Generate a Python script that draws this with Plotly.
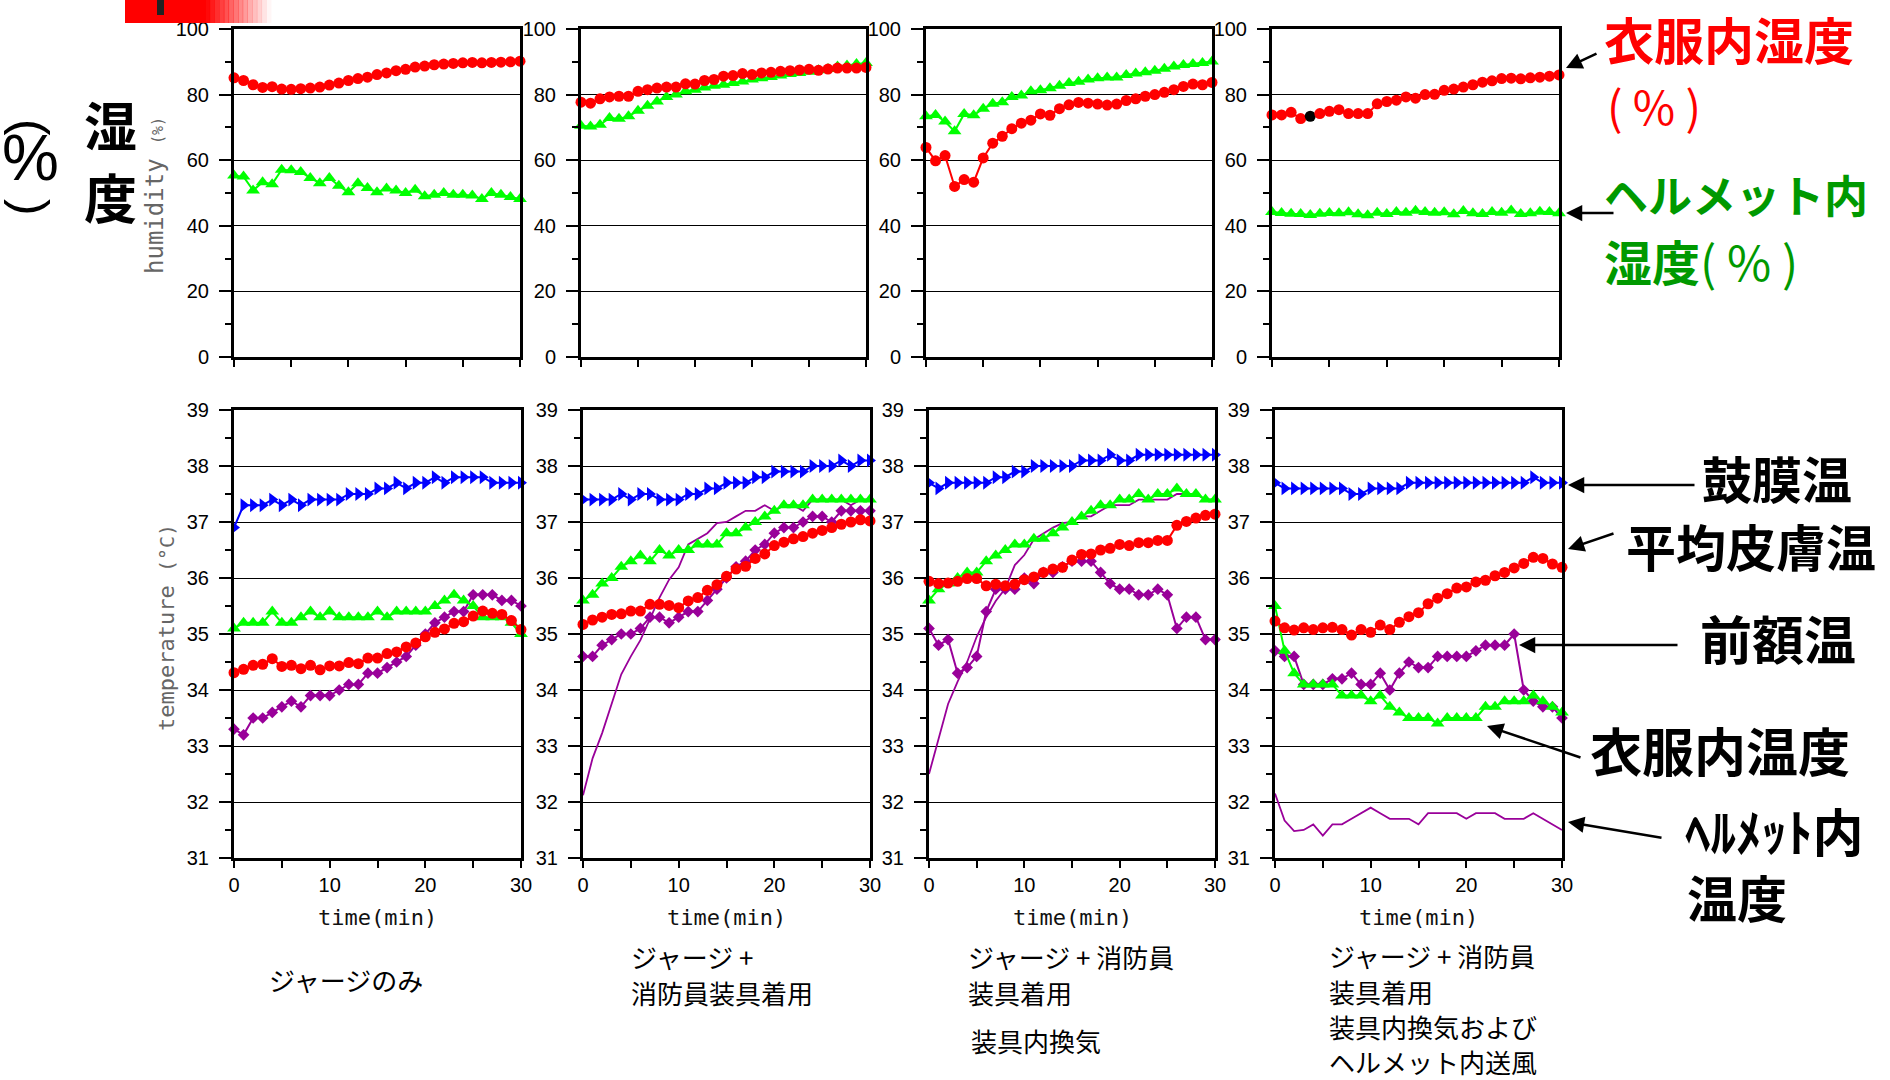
import plotly.graph_objects as go

W, H = 1890, 1080
t = list(range(31))

# ---------------- humidity (%) ----------------
hum_cloth_1 = [85.1,84.3,83.0,82.2,82.4,81.7,81.6,81.8,82.0,82.3,82.9,83.5,84.3,84.9,85.3,86.1,86.6,87.3,87.7,88.4,88.7,89.1,89.3,89.5,89.7,89.8,89.7,89.8,89.9,90.0,90.2]
hum_cloth_2 = [77.7,77.4,78.7,79.3,79.5,79.5,81.0,81.5,82.0,82.3,82.3,83.3,83.2,84.3,84.6,85.6,85.8,86.4,86.1,86.6,86.8,87.1,87.3,87.5,87.7,87.4,87.8,88.1,88.1,88.1,88.3]
hum_cloth_3 = [63.9,59.8,61.4,52.0,54.1,53.3,60.7,65.2,67.3,69.6,71.3,72.2,74.1,73.7,75.7,76.9,77.6,77.4,77.1,76.8,77.1,78.2,78.7,79.5,80.0,80.7,81.5,82.5,83.2,83.0,83.7]
hum_cloth_4 = [73.8,73.8,74.6,72.7,73.4,74.2,74.9,75.4,74.2,74.2,74.2,77.2,77.9,78.3,79.3,78.9,80.0,80.1,81.3,81.7,82.3,83.0,83.8,84.2,84.9,85.0,84.8,85.1,85.3,85.6,86.0]

hum_helmet_1 = [55.3,55.0,50.8,53.3,52.7,57.1,56.9,56.4,54.6,53.0,54.6,52.2,50.2,53.0,51.5,50.2,51.4,50.8,50.0,51.0,49.0,49.5,50.0,49.5,49.5,49.2,48.2,50.0,49.5,48.8,48.2]
hum_helmet_2 = [70.5,70.3,70.8,72.9,72.6,73.4,75.1,76.6,77.9,79.3,80.0,81.0,81.5,82.2,82.7,83.0,83.5,84.0,84.6,85.0,85.4,85.8,86.3,86.6,87.0,87.4,87.8,88.6,88.9,89.3,89.6]
hum_helmet_3 = [73.4,73.8,71.8,68.8,74.1,73.7,75.7,77.2,77.7,79.3,79.7,81.0,81.3,81.9,82.7,83.5,83.9,84.6,85.0,85.2,85.2,86.0,86.4,86.8,87.3,87.9,88.6,89.0,89.3,89.6,90.1]
hum_helmet_4 = [44.2,43.9,43.7,43.6,43.3,43.7,43.9,43.8,44.1,43.5,43.2,44.0,43.6,44.2,44.0,44.6,44.2,44.0,44.1,43.5,44.5,43.8,43.6,44.2,44.0,44.7,43.6,43.8,44.3,44.2,43.8]

# ---------------- temperature (°C) ----------------
tymp_1 = [36.9,37.3,37.3,37.3,37.4,37.3,37.4,37.3,37.4,37.4,37.4,37.4,37.5,37.5,37.5,37.6,37.6,37.7,37.6,37.7,37.7,37.8,37.7,37.8,37.8,37.8,37.8,37.7,37.7,37.7,37.7]
tymp_2 = [37.4,37.4,37.4,37.4,37.5,37.4,37.5,37.5,37.4,37.4,37.4,37.5,37.5,37.6,37.6,37.7,37.7,37.7,37.8,37.8,37.9,37.9,37.9,37.9,38.0,38.0,38.0,38.1,38.0,38.1,38.1]
tymp_3 = [37.7,37.6,37.7,37.7,37.7,37.7,37.7,37.8,37.8,37.9,37.9,38.0,38.0,38.0,38.0,38.0,38.1,38.1,38.1,38.2,38.1,38.1,38.2,38.2,38.2,38.2,38.2,38.2,38.2,38.2,38.2]
tymp_4 = [37.7,37.6,37.6,37.6,37.6,37.6,37.6,37.6,37.5,37.5,37.6,37.6,37.6,37.6,37.7,37.7,37.7,37.7,37.7,37.7,37.7,37.7,37.7,37.7,37.7,37.7,37.7,37.8,37.7,37.7,37.7]

skin_1 = [34.31,34.37,34.44,34.46,34.56,34.42,34.44,34.38,34.44,34.36,34.43,34.43,34.49,34.47,34.57,34.57,34.65,34.68,34.77,34.84,34.95,35.03,35.09,35.19,35.22,35.32,35.41,35.37,35.35,35.24,35.08]
skin_2 = [35.17,35.25,35.30,35.35,35.36,35.41,35.41,35.53,35.53,35.51,35.47,35.59,35.65,35.78,35.88,36.03,36.16,36.21,36.35,36.43,36.58,36.64,36.70,36.74,36.80,36.85,36.90,36.96,37.00,37.04,37.02]
skin_3 = [35.94,35.90,35.91,35.94,35.99,35.99,35.86,35.89,35.86,35.89,35.97,36.02,36.10,36.16,36.19,36.32,36.42,36.43,36.50,36.53,36.60,36.58,36.63,36.63,36.67,36.67,36.94,37.01,37.07,37.12,37.14]
skin_4 = [35.23,35.11,35.07,35.11,35.08,35.11,35.12,35.08,34.98,35.08,35.03,35.16,35.08,35.21,35.31,35.38,35.54,35.64,35.72,35.82,35.84,35.93,35.96,36.04,36.10,36.18,36.26,36.37,36.35,36.25,36.19]

cloth_1 = [35.1,35.2,35.2,35.2,35.4,35.2,35.2,35.3,35.4,35.3,35.4,35.3,35.3,35.3,35.3,35.4,35.3,35.4,35.4,35.4,35.4,35.5,35.6,35.7,35.6,35.5,35.3,35.3,35.3,35.2,35.0]
cloth_2 = [35.6,35.7,35.9,36.0,36.2,36.3,36.4,36.3,36.5,36.4,36.5,36.5,36.6,36.6,36.6,36.8,36.8,36.9,37.0,37.1,37.2,37.3,37.3,37.3,37.4,37.4,37.4,37.4,37.4,37.4,37.4]
cloth_3 = [35.6,35.8,35.9,36.0,36.1,36.1,36.3,36.4,36.5,36.6,36.6,36.7,36.7,36.8,36.9,37.0,37.1,37.2,37.3,37.3,37.4,37.4,37.5,37.4,37.5,37.5,37.6,37.5,37.5,37.4,37.4]
cloth_4 = [35.5,34.7,34.3,34.1,34.1,34.1,34.1,33.9,33.9,33.9,33.8,33.9,33.7,33.6,33.5,33.5,33.5,33.4,33.5,33.5,33.5,33.5,33.7,33.7,33.8,33.8,33.8,33.9,33.8,33.7,33.6]

forehead_1 = [33.3,33.2,33.5,33.5,33.6,33.7,33.8,33.7,33.9,33.9,33.9,34.0,34.1,34.1,34.3,34.3,34.4,34.5,34.6,34.8,35.0,35.2,35.3,35.4,35.4,35.7,35.7,35.7,35.6,35.6,35.5]
forehead_2 = [34.6,34.6,34.8,34.9,35.0,35.0,35.1,35.3,35.3,35.2,35.3,35.4,35.4,35.6,35.8,36.0,36.2,36.3,36.5,36.6,36.8,36.9,36.9,37.0,37.1,37.1,37.0,37.2,37.2,37.2,37.2]
forehead_3 = [35.1,34.8,34.9,34.3,34.4,34.6,35.4,35.8,35.8,35.8,36.0,35.9,36.1,36.1,36.2,36.3,36.3,36.3,36.1,35.9,35.8,35.8,35.7,35.7,35.8,35.7,35.1,35.3,35.3,34.9,34.9]
forehead_4 = [34.7,34.6,34.6,34.1,34.1,34.1,34.2,34.2,34.3,34.1,34.1,34.3,34.0,34.3,34.5,34.4,34.4,34.6,34.6,34.6,34.6,34.7,34.8,34.8,34.8,35.0,34.0,33.8,33.7,33.7,33.5]

helmet_2 = [32.12,32.78,33.23,33.74,34.28,34.6,34.89,35.27,35.65,35.97,36.19,36.6,36.7,36.8,36.98,37.0,37.1,37.2,37.2,37.3,37.2,37.3,37.3,37.2,37.4,37.4,37.4,37.4,37.3,37.4,37.4]
helmet_3 = [32.5,33.13,33.75,34.15,34.5,34.95,35.3,35.59,35.81,36.23,36.41,36.69,36.8,36.9,36.98,37.0,37.1,37.1,37.2,37.3,37.3,37.3,37.4,37.4,37.4,37.4,37.5,37.5,37.5,37.4,37.4]
helmet_4 = [32.15,31.67,31.48,31.5,31.6,31.4,31.6,31.6,31.7,31.8,31.9,31.8,31.7,31.7,31.7,31.6,31.8,31.8,31.8,31.8,31.7,31.8,31.8,31.8,31.7,31.7,31.7,31.8,31.7,31.6,31.5]

hum_yticks = [0, 20, 40, 60, 80, 100]
temp_yticks = [31, 32, 33, 34, 35, 36, 37, 38, 39]
top_xticks = [0, 6, 12, 18, 24, 30]
bot_xticks = [0, 10, 20, 30]

RED, GREEN, BLUE, PURPLE = "#ff0000", "#00ff00", "#0000ff", "#990099"
DKGREEN = "#009900"

fig = go.Figure()

def px(x):
    return x / W

def py(y):
    return 1 - y / H

top_cols = [(234, 520), (581, 866), (926, 1212), (1272, 1559)]
bot_cols = [(234, 521), (583, 870), (929, 1215), (1275, 1562)]
TOP_Y = (29, 357)
BOT_Y = (410, 858)

num_font = dict(family="Liberation Sans, Arial", size=20, color="black")

def add_series(idx, y, color, symbol, size, width=2, show_markers=True, mcolors=None):
    mode = "lines+markers" if show_markers else "lines"
    fig.add_trace(go.Scatter(
        x=t, y=y, mode=mode, xaxis=f"x{idx}", yaxis=f"y{idx}",
        line=dict(color=color, width=width),
        marker=dict(symbol=symbol, size=size, color=mcolors if mcolors else color, line=dict(width=0)),
        cliponaxis=False, showlegend=False, hoverinfo="skip"))

hum_cloth = [hum_cloth_1, hum_cloth_2, hum_cloth_3, hum_cloth_4]
hum_helmet = [hum_helmet_1, hum_helmet_2, hum_helmet_3, hum_helmet_4]
tymp = [tymp_1, tymp_2, tymp_3, tymp_4]
skin = [skin_1, skin_2, skin_3, skin_4]
cloth = [cloth_1, cloth_2, cloth_3, cloth_4]
forehead = [forehead_1, forehead_2, forehead_3, forehead_4]
helmet = [None, helmet_2, helmet_3, helmet_4]

for i in range(4):
    idx = i + 1
    add_series(idx, hum_helmet[i], GREEN, "triangle-up", 12)
    mc = None
    if i == 3:
        mc = [RED] * 31
        mc[4] = "black"
    add_series(idx, hum_cloth[i], RED, "circle", 11, mcolors=mc)

for i in range(4):
    idx = i + 5
    if helmet[i] is not None:
        add_series(idx, helmet[i], PURPLE, "circle", 1, width=1.8, show_markers=False)
    add_series(idx, forehead[i], PURPLE, "diamond", 9)
    add_series(idx, cloth[i], GREEN, "triangle-up", 12)
    add_series(idx, skin[i], RED, "circle", 11)
    add_series(idx, tymp[i], BLUE, "triangle-right", 12)

layout = dict(width=W, height=H, margin=dict(l=0, r=0, t=0, b=0, pad=0, autoexpand=False),
              plot_bgcolor="white", paper_bgcolor="white", showlegend=False)

frame = dict(showline=True, linecolor="black", linewidth=3, mirror=True, automargin=False,
             zeroline=False, tickcolor="black", tickwidth=1.5)

for i in range(4):
    idx = i + 1
    xl, xr = top_cols[i]
    layout[f"xaxis{idx}"] = dict(frame, domain=[px(xl), px(xr)], range=[0, 30], anchor=f"y{idx}",
                                 tickvals=top_xticks, ticks="outside", ticklen=7,
                                 showticklabels=False, showgrid=False)
    layout[f"yaxis{idx}"] = dict(frame, domain=[py(TOP_Y[1]), py(TOP_Y[0])], range=[0, 100], anchor=f"x{idx}",
                                 tickvals=hum_yticks, ticks="outside", ticklen=12,
                                 showgrid=True, gridcolor="black", gridwidth=1,
                                 tickfont=num_font, ticklabelstandoff=6,
                                 minor=dict(dtick=10, ticks="outside", ticklen=6, tickcolor="black", showgrid=False))
for i in range(4):
    idx = i + 5
    xl, xr = bot_cols[i]
    layout[f"xaxis{idx}"] = dict(frame, domain=[px(xl), px(xr)], range=[0, 30], anchor=f"y{idx}",
                                 tickvals=bot_xticks, ticks="outside", ticklen=7,
                                 showticklabels=True, showgrid=False, tickfont=num_font,
                                 minor=dict(dtick=5, ticks="outside", ticklen=7, tickcolor="black", showgrid=False))
    layout[f"yaxis{idx}"] = dict(frame, domain=[py(BOT_Y[1]), py(BOT_Y[0])], range=[31, 39], anchor=f"x{idx}",
                                 tickvals=temp_yticks, ticks="outside", ticklen=12,
                                 showgrid=True, gridcolor="black", gridwidth=1,
                                 tickfont=num_font, ticklabelstandoff=6,
                                 minor=dict(dtick=0.5, ticks="outside", ticklen=6, tickcolor="black", showgrid=False))

fig.update_layout(**layout)

JP = "Noto Sans CJK JP"
MONO = "DejaVu Sans Mono"
anns = []

def ann(text, x, y, size, color="black", family=JP, xanchor="center", yanchor="middle", angle=0, align="center"):
    anns.append(dict(text=text, x=px(x), y=py(y), xref="paper", yref="paper",
                     xanchor=xanchor, yanchor=yanchor, showarrow=False, textangle=angle, align=align,
                     borderpad=0, font=dict(family=family, size=size, color=color)))

def arrow(hx, hy, tx, ty):
    anns.append(dict(text="", x=px(hx), y=py(hy), xref="paper", yref="paper",
                     ax=tx - hx, ay=ty - hy, axref="pixel", ayref="pixel",
                     showarrow=True, arrowhead=2, arrowsize=1.3, arrowwidth=2.5, arrowcolor="black"))

# left axis titles
ann("(", 31, 128, 50, family="Liberation Sans", angle=90)
ann("%", 31, 158, 64, family="Liberation Sans")
ann(")", 31, 208, 50, family="Liberation Sans", angle=90)
ann("<b>湿</b>", 110, 124, 53)
ann("<b>度</b>", 110, 196, 53)
ann("humidity <span style='font-size:15px'>(%)</span>", 155, 196, 24, color="#666666", family=MONO, angle=-90)
ann("temperature <span style='font-size:20px'>(°C)</span>", 166, 628, 22, color="#666666", family=MONO, angle=-90)

# x titles
for xl, xr in bot_cols:
    ann("time(min)", (xl + xr) / 2, 917, 22, color="#111111", family=MONO)

# right-side labels (humidity)
ann("<b>衣服内湿度</b>", 1603, 38, 50, color=RED, xanchor="left")
ann("( % )", 1606, 105, 46, color=RED, xanchor="left")
arrow(1566, 68, 1598, 53)
ann("<b>ヘルメット内</b>", 1603, 194, 44, color=DKGREEN, xanchor="left")
ann("<b>湿度</b>( % )", 1603, 260, 48, color=DKGREEN, xanchor="left")
arrow(1566, 213, 1615, 213)

# right-side labels (temperature)
ann("<b>鼓膜温</b>", 1777, 477, 50)
arrow(1568, 485, 1696, 485)
ann("<b>平均皮膚温</b>", 1751, 545, 50)
arrow(1568, 549, 1615, 533)
ann("<b>前額温</b>", 1778, 637, 52)
arrow(1519, 645, 1679, 645)
ann("<b>衣服内温度</b>", 1720, 749, 52)
arrow(1487, 726, 1582, 758)
ann("<b>ﾍﾙﾒｯﾄ内</b>", 1684, 830, 51, xanchor="left")
ann("<b>温度</b>", 1686, 896, 50, xanchor="left")
arrow(1568, 822, 1663, 838)

# condition captions
cap = 26
ann("ジャージのみ", 268, 979, cap, xanchor="left")
ann("ジャージ +", 630, 956, cap, xanchor="left")
ann("消防員装具着用", 630, 992, cap, xanchor="left")
ann("ジャージ + 消防員", 967, 956, cap, xanchor="left")
ann("装具着用", 967, 992, cap, xanchor="left")
ann("装具内換気", 970, 1040, cap, xanchor="left")
ann("ジャージ + 消防員", 1328, 955, cap, xanchor="left")
ann("装具着用", 1328, 991, cap, xanchor="left")
ann("装具内換気および", 1328, 1026, cap, xanchor="left")
ann("ヘルメット内送風", 1328, 1061, cap, xanchor="left")

fig.update_layout(annotations=anns)

# decorative red bar at top-left
shapes = [dict(type="rect", xref="paper", yref="paper", x0=px(125), x1=px(206), y0=py(23), y1=py(0),
               fillcolor=RED, line=dict(width=0), layer="above")]
n = 14
for k in range(n):
    x0 = 205 + k * (66 / n)
    shapes.append(dict(type="rect", xref="paper", yref="paper", x0=px(x0), x1=px(x0 + 66 / n + 0.5),
                       y0=py(23), y1=py(0), fillcolor=RED, opacity=max(0.0, 1 - (k + 0.5) / n),
                       line=dict(width=0), layer="above"))
shapes.append(dict(type="rect", xref="paper", yref="paper", x0=px(157), x1=px(164), y0=py(15), y1=py(0),
                   fillcolor="#222222", line=dict(width=0), layer="above"))
fig.update_layout(shapes=shapes)

fig.write_html("out.html")
